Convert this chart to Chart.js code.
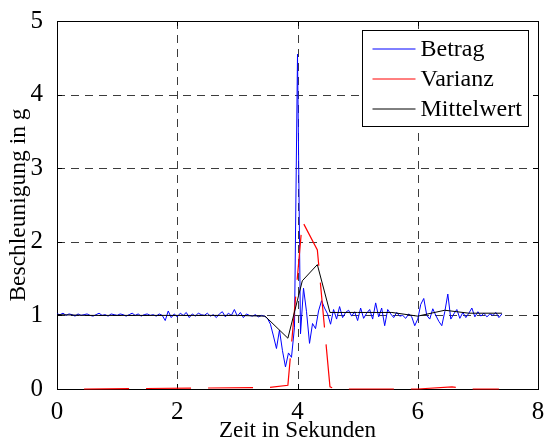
<!DOCTYPE html>
<html>
<head>
<meta charset="utf-8">
<script src="https://cdn.jsdelivr.net/npm/chart.js@4/dist/chart.umd.min.js"></script>
<style>
  html, body { margin: 0; padding: 0; background: #fff; }
</style>
</head>
<body>
<canvas id="beschleunigungChart" width="545" height="443"></canvas>
<script>
// Betrag: Abtastwerte alle 0.05 s, beginnend bei 0 s
const betragStart = 0;
const betragSchritt = 0.05;
const betragWerte = [
  1.02, 1.01, 1.03, 1.00, 1.02, 1.01, 0.99, 1.02, 1.00, 1.01,
  1.02, 1.00, 0.99, 1.01, 1.03, 1.00, 1.01, 0.99, 1.02, 1.01,
  1.00, 1.02, 1.01, 0.99, 1.01, 1.03, 1.00, 1.02, 0.99, 1.01,
  1.02, 1.00, 1.01, 0.99, 1.02, 1.00, 0.93, 1.06, 0.97, 1.02,
  0.98, 1.03, 1.00, 1.04, 0.97, 1.02, 0.99, 1.03, 1.01, 1.00,
  1.03, 0.99, 1.01, 0.97, 1.02, 1.05, 0.98, 1.03, 1.00, 1.08,
  0.99, 1.04, 0.97, 1.02, 1.00, 0.99, 1.01, 0.98, 1.00, 0.99,
  0.96, 0.88, 0.72, 0.55, 0.80, 0.52, 0.30, 0.49, 0.43, 0.84,
  4.55, 0.75, 1.37, 1.05, 0.62, 0.89, 0.82, 1.06, 1.20, 1.10,
  1.02, 0.88, 1.08, 0.95, 1.12, 0.97, 1.04, 1.07, 0.99, 1.05,
  0.93, 1.10, 0.96, 1.03, 1.08, 0.95, 1.17, 0.98, 1.10, 0.86,
  1.08, 1.02, 0.97, 1.04, 0.99, 1.00, 0.96, 1.02, 0.98, 0.86,
  0.95, 1.15, 1.23, 1.00, 0.95, 1.09, 1.00, 0.92, 0.86, 1.05,
  1.29, 0.95, 1.02, 1.08, 0.96, 1.04, 0.97, 1.03, 1.10, 0.98,
  1.05, 0.99, 1.03, 0.98, 1.02, 1.00, 1.04, 0.97, 1.02
];

// Varianz
const varianzZeit  = [0.45, 3.51, 3.84, 4.08, 4.33, 4.54, 4.62, 6.00, 6.57, 6.80, 7.35];
const varianzWerte = [0.00, 0.02, 0.05, 2.28, 1.89, 0.03, 0.00, 0.00, 0.03, 0.00, 0.00];

// Mittelwert
const mittelZeit  = [0, 0.5, 1.0, 1.5, 2.0, 2.5, 3.0, 3.46, 3.84, 4.08, 4.33, 4.54, 5.0, 5.57, 6.0, 6.45, 6.85, 7.4];
const mittelWerte = [1.01, 1.00, 1.00, 1.00, 1.00, 1.00, 1.00, 0.99, 0.69, 1.47, 1.69, 1.04, 1.04, 1.04, 0.99, 1.07, 1.03, 1.03];

// Achsen
const xTicks = [0, 2, 4, 6, 8];
const yTicks = [0, 1, 2, 3, 4, 5];

const farben = { Betrag: '#0000ff', Varianz: '#ff0000', Mittelwert: '#000000' };
const schrift = '"Liberation Serif", "Times New Roman", serif';

function punkte(xs, ys) {
  return ys.map((y, i) => ({ x: xs[i], y: y }));
}

const betragZeit = betragWerte.map((_, i) => +(betragStart + i * betragSchritt).toFixed(2));

// Rahmen, Gitter und nach innen zeigende Ticks wie bei MATLAB
const rahmenPlugin = {
  id: 'rahmen',
  beforeDatasetsDraw(chart) {
    const { ctx, chartArea: a, scales: { x, y } } = chart;
    ctx.save();
    ctx.strokeStyle = '#3c3c3c';
    ctx.lineWidth = 1;
    ctx.setLineDash([8, 6]);
    xTicks.slice(1, -1).forEach(v => {
      const px = Math.round(x.getPixelForValue(v)) + 0.5;
      ctx.beginPath(); ctx.moveTo(px, a.top); ctx.lineTo(px, a.bottom); ctx.stroke();
    });
    yTicks.slice(1, -1).forEach(v => {
      const py = Math.round(y.getPixelForValue(v)) + 0.5;
      ctx.beginPath(); ctx.moveTo(a.left, py); ctx.lineTo(a.right, py); ctx.stroke();
    });
    ctx.setLineDash([]);
    ctx.strokeStyle = '#000';
    ctx.strokeRect(Math.round(a.left) + 0.5, Math.round(a.top) + 0.5,
                   Math.round(a.right - a.left), Math.round(a.bottom - a.top));
    const len = 5;
    ctx.beginPath();
    xTicks.forEach(v => {
      const px = Math.round(x.getPixelForValue(v)) + 0.5;
      ctx.moveTo(px, a.bottom); ctx.lineTo(px, a.bottom - len);
      ctx.moveTo(px, a.top); ctx.lineTo(px, a.top + len);
    });
    yTicks.forEach(v => {
      const py = Math.round(y.getPixelForValue(v)) + 0.5;
      ctx.moveTo(a.left, py); ctx.lineTo(a.left + len, py);
      ctx.moveTo(a.right, py); ctx.lineTo(a.right - len, py);
    });
    ctx.stroke();
    ctx.restore();
  },
  afterDraw(chart) {
    const { ctx, chartArea: a } = chart;
    // Legende
    ctx.save();
    const bx = Math.round(a.right - 176) + 0.5, by = Math.round(a.top + 9) + 0.5;
    const bw = 166, bh = 96;
    ctx.fillStyle = '#fff';
    ctx.fillRect(bx, by, bw, bh);
    ctx.lineWidth = 1;
    ctx.strokeStyle = '#000';
    ctx.strokeRect(bx, by, bw, bh);
    ctx.font = '24px ' + schrift;
    ctx.textBaseline = 'middle';
    chart.data.datasets.forEach((ds, i) => {
      const ly = Math.round(by + 18 + i * 30);
      ctx.strokeStyle = farben[ds.label];
      ctx.beginPath(); ctx.moveTo(bx + 10, ly); ctx.lineTo(bx + 53, ly); ctx.stroke();
      ctx.fillStyle = '#000';
      ctx.fillText(ds.label, bx + 58, ly + 1);
    });
    ctx.restore();
  }
};

new Chart(document.getElementById('beschleunigungChart'), {
  type: 'line',
  data: {
    datasets: [
      {
        label: 'Betrag',
        data: punkte(betragZeit, betragWerte),
        borderColor: farben.Betrag,
        borderWidth: 1,
        pointRadius: 0,
        tension: 0,
        order: 3
      },
      {
        label: 'Varianz',
        data: punkte(varianzZeit, varianzWerte),
        borderColor: farben.Varianz,
        borderWidth: 1.2,
        borderDash: [45, 17],
        pointRadius: 0,
        tension: 0,
        clip: 4,
        order: 2
      },
      {
        label: 'Mittelwert',
        data: punkte(mittelZeit, mittelWerte),
        borderColor: farben.Mittelwert,
        borderWidth: 1,
        pointRadius: 0,
        tension: 0,
        order: 1
      }
    ]
  },
  options: {
    responsive: false,
    animation: false,
    devicePixelRatio: 1,
    layout: { padding: { top: 18, right: 7, left: 0, bottom: 0 } },
    plugins: {
      legend: { display: false },
      tooltip: { enabled: false }
    },
    scales: {
      x: {
        type: 'linear',
        min: 0,
        max: 8,
        afterFit: s => { s.height = 54; },
        afterBuildTicks: s => { s.ticks = xTicks.map(v => ({ value: v })); },
        ticks: { color: '#000', padding: 0, font: { family: schrift, size: 25 } },
        grid: { display: false },
        border: { display: false },
        title: {
          display: true,
          text: 'Zeit in Sekunden',
          color: '#000',
          padding: { top: 0, bottom: -2 },
          font: { family: schrift, size: 23 }
        }
      },
      y: {
        type: 'linear',
        min: 0,
        max: 5,
        afterFit: s => { s.width = 57; },
        afterBuildTicks: s => { s.ticks = yTicks.map(v => ({ value: v })); },
        ticks: { color: '#000', padding: 6, font: { family: schrift, size: 25 } },
        grid: { display: false },
        border: { display: false },
        title: {
          display: true,
          text: 'Beschleunigung in g',
          color: '#000',
          padding: { top: 5, bottom: 0 },
          font: { family: schrift, size: 23.5 }
        }
      }
    }
  },
  plugins: [rahmenPlugin]
});
</script>
</body>
</html>
